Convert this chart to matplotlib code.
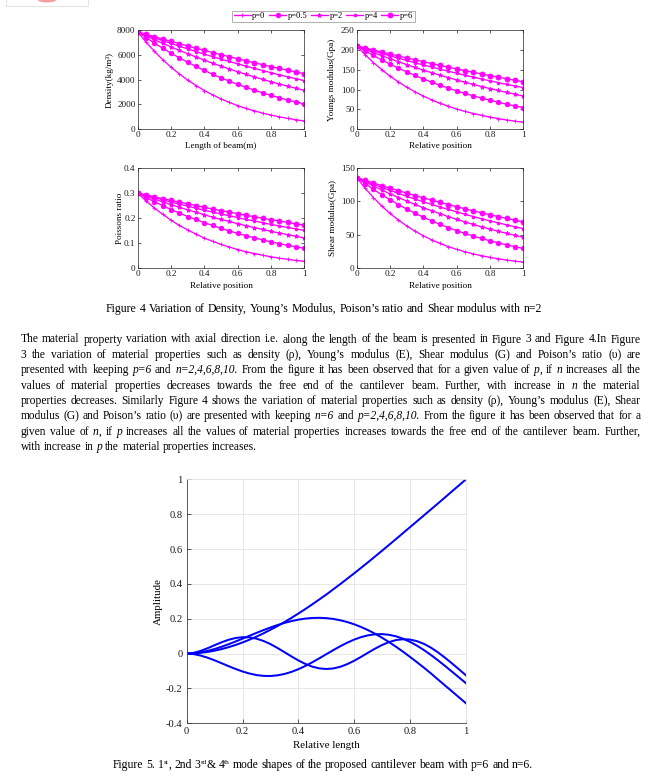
import re
import matplotlib
matplotlib.use("Agg")
import matplotlib.pyplot as plt
from matplotlib.transforms import IdentityTransform
from matplotlib.ticker import FixedLocator, FuncFormatter
from matplotlib.patches import Rectangle, Ellipse

W, H = 658, 779
plt.rcParams['font.family'] = ['Liberation Serif', 'DejaVu Serif']

# ---------------- data ----------------
x_pos = [0.0, 0.05, 0.1, 0.15, 0.2, 0.25, 0.3, 0.35, 0.4, 0.45, 0.5,
         0.55, 0.6, 0.65, 0.7, 0.75, 0.8, 0.85, 0.9, 0.95, 1.0]
series_labels = ['p=0', 'p=0.5', 'p=2', 'p=4', 'p=6']

density = [
    [7850, 7026, 6280, 5613, 5000, 4459, 3964, 3525, 3124, 2771, 2449, 2167, 1908, 1680, 1484, 1303, 1146, 1005, 879, 769, 670],
    [7850, 7387, 6947, 6531, 6131, 5754, 5401, 5063, 4741, 4435, 4145, 3878, 3619, 3376, 3148, 2936, 2732, 2543, 2363, 2198, 2041],
    [7850, 7536, 7222, 6924, 6641, 6359, 6084, 5825, 5574, 5322, 5087, 4859, 4639, 4427, 4223, 4019, 3831, 3650, 3470, 3305, 3140],
    [7850, 7607, 7371, 7144, 6916, 6696, 6476, 6264, 6052, 5856, 5652, 5464, 5275, 5087, 4906, 4734, 4561, 4396, 4231, 4074, 3925],
    [7850, 7654, 7458, 7269, 7081, 6900, 6712, 6539, 6359, 6186, 6013, 5848, 5683, 5519, 5362, 5205, 5055, 4906, 4757, 4616, 4475],
]
youngs = [
    [210, 188.0, 168.0, 150.2, 133.8, 119.3, 106.1, 94.3, 83.6, 74.1, 65.5, 58.0, 51.0, 44.9, 39.7, 34.9, 30.7, 26.9, 23.5, 20.6, 17.9],
    [210, 197.6, 185.9, 174.7, 164.0, 153.9, 144.5, 135.5, 126.8, 118.7, 110.9, 103.7, 96.8, 90.3, 84.2, 78.5, 73.1, 68.0, 63.2, 58.8, 54.6],
    [210, 201.6, 193.2, 185.2, 177.7, 170.1, 162.8, 155.8, 149.1, 142.4, 136.1, 130.0, 124.1, 118.4, 113.0, 107.5, 102.5, 97.7, 92.8, 88.4, 84.0],
    [210, 203.5, 197.2, 191.1, 185.0, 179.1, 173.3, 167.6, 161.9, 156.7, 151.2, 146.2, 141.1, 136.1, 131.3, 126.6, 122.0, 117.6, 113.2, 109.0, 105.0],
    [210, 204.8, 199.5, 194.5, 189.4, 184.6, 179.6, 174.9, 170.1, 165.5, 160.9, 156.5, 152.0, 147.6, 143.4, 139.2, 135.2, 131.3, 127.3, 123.5, 119.7],
]
poisson = [
    [0.300, 0.269, 0.240, 0.215, 0.191, 0.170, 0.152, 0.135, 0.119, 0.106, 0.094, 0.083, 0.073, 0.064, 0.057, 0.050, 0.044, 0.038, 0.034, 0.029, 0.026],
    [0.300, 0.282, 0.266, 0.250, 0.234, 0.220, 0.206, 0.194, 0.181, 0.170, 0.158, 0.148, 0.138, 0.129, 0.120, 0.112, 0.104, 0.097, 0.090, 0.084, 0.078],
    [0.300, 0.288, 0.276, 0.265, 0.254, 0.243, 0.233, 0.223, 0.213, 0.203, 0.194, 0.186, 0.177, 0.169, 0.161, 0.154, 0.146, 0.140, 0.133, 0.126, 0.120],
    [0.300, 0.291, 0.282, 0.273, 0.264, 0.256, 0.248, 0.239, 0.231, 0.224, 0.216, 0.209, 0.202, 0.194, 0.188, 0.181, 0.174, 0.168, 0.162, 0.156, 0.150],
    [0.300, 0.293, 0.285, 0.278, 0.271, 0.264, 0.257, 0.250, 0.243, 0.236, 0.230, 0.224, 0.217, 0.211, 0.205, 0.199, 0.193, 0.188, 0.182, 0.176, 0.171],
]
shear = [
    [136, 120.1, 105.8, 93.2, 81.9, 71.9, 63.0, 55.1, 48.1, 42.0, 36.6, 31.8, 27.7, 24.1, 20.8, 18.0, 15.5, 13.4, 11.5, 9.9, 8.5],
    [136, 126.9, 118.3, 110.2, 102.5, 95.3, 88.5, 82.1, 76.3, 70.7, 65.4, 60.5, 56.0, 51.7, 47.7, 44.1, 40.5, 37.4, 34.4, 31.6, 29.0],
    [136, 129.5, 123.4, 117.2, 111.5, 105.9, 100.6, 95.5, 90.6, 86.0, 81.5, 77.1, 72.9, 69.0, 65.3, 61.6, 58.2, 54.9, 51.8, 48.8, 46.0],
    [136, 131.0, 126.1, 121.3, 116.7, 112.2, 107.8, 103.6, 99.4, 95.5, 91.5, 87.9, 84.2, 80.6, 77.2, 73.8, 70.7, 67.6, 64.6, 61.7, 59.0],
    [136, 131.9, 127.8, 123.9, 120.1, 116.3, 112.6, 108.9, 105.4, 102.0, 98.6, 95.3, 92.1, 88.9, 85.8, 82.8, 80.0, 77.1, 74.3, 71.7, 69.0],
]

rel_length = [0.0, 0.025, 0.05, 0.075, 0.1, 0.125, 0.15, 0.175, 0.2, 0.225, 0.25,
              0.275, 0.3, 0.325, 0.35, 0.375, 0.4, 0.425, 0.45, 0.475, 0.5,
              0.525, 0.55, 0.575, 0.6, 0.625, 0.65, 0.675, 0.7, 0.725, 0.75,
              0.775, 0.8, 0.825, 0.85, 0.875, 0.9, 0.925, 0.95, 0.975, 1.0]
mode1 = [0, 0.0011, 0.0043, 0.0095, 0.0168, 0.0259, 0.0368, 0.0495, 0.064, 0.0798, 0.0973,
         0.1162, 0.137, 0.1581, 0.1809, 0.2048, 0.230, 0.2559, 0.283, 0.3108, 0.339,
         0.369, 0.399, 0.430, 0.461, 0.493, 0.525, 0.558, 0.591, 0.6245, 0.658,
         0.692, 0.726, 0.760, 0.794, 0.828, 0.862, 0.8965, 0.931, 0.9655, 1.0]
mode2 = [0, 0.00188, 0.0072, 0.01555, 0.0264, 0.0393, 0.0538, 0.06945, 0.0858, 0.10249, 0.1189,
         0.13483, 0.1499, 0.16377, 0.1760, 0.18645, 0.1948, 0.20081, 0.2043, 0.20521, 0.2034,
         0.19875, 0.1912, 0.18091, 0.1679, 0.15213, 0.1340, 0.11322, 0.0904, 0.06527, 0.0386,
         0.01025, -0.0196, -0.05018, -0.0817, -0.11442, -0.1491, -0.18319, -0.2170, -0.25115, -0.2853]
mode3 = [0, -0.00306, -0.0114, -0.02372, -0.0388, -0.05532, -0.0722, -0.08834, -0.1028, -0.1146, -0.1232,
         -0.12793, -0.1286, -0.1249, -0.1170, -0.10503, -0.0894, -0.07073, -0.0496, -0.02689, -0.0033,
         0.0200, 0.0424, 0.06279, 0.0805, 0.09479, 0.1050, 0.11077, 0.1117, 0.10771, 0.0988,
         0.08512, 0.0670, 0.0450, 0.0195, -0.00866, -0.0391, -0.07091, -0.1038, -0.13701, -0.1701]
mode4 = [0, 0.00429, 0.0154, 0.03087, 0.0482, 0.0649, 0.0792, 0.08939, 0.0942, 0.09303, 0.0856,
         0.07237, 0.0543, 0.03219, 0.0082, -0.01628, -0.0394, -0.05951, -0.0751, -0.08496, -0.0884,
         -0.08521, -0.0757, -0.06047, -0.0408, -0.0182, 0.0057, 0.02895, 0.0497, 0.0664, 0.0777,
         0.08251, 0.0804, 0.07109, 0.0552, 0.03333, 0.0066, -0.02387, -0.0566, -0.09054, -0.1250]

caption4 = "Figure 4 Variation of Density, Young’s Modulus, Poison’s ratio and Shear modulus with n=2"
para_lines = [
    "The material property variation with axial direction i.e. along the length of the beam is presented in Figure 3 and Figure 4.In Figure",
    "3 the variation of material properties such as density (ρ), Young’s modulus (E), Shear modulus (G) and Poison’s ratio (υ) are",
    "presented with keeping _p=6_ and _n=2,4,6,8,10._ From the figure it has been observed that for a given value of _p_, if _n_ increases all the",
    "values of material properties decreases towards the free end of the cantilever beam. Further, with increase in _n_ the material",
    "properties decreases. Similarly Figure 4 shows the variation of material properties such as density (ρ), Young’s modulus (E), Shear",
    "modulus (G) and Poison’s ratio (υ) are presented with keeping _n=6_ and _p=2,4,6,8,10._ From the figure it has been observed that for a",
    "given value of _n_, if _p_ increases all the values of material properties increases towards the free end of the cantilever beam. Further,",
    "with increase in _p_ the material properties increases.",
]
caption5 = "Figure 5. 1^st, 2nd 3^rd& 4^th mode shapes of the proposed cantilever beam with p=6 and n=6."

# ---------------- figure ----------------
fig = plt.figure(figsize=(W / 100, H / 100), dpi=100)
fig.patch.set_facecolor('white')
R = fig.canvas.get_renderer()
TR = IdentityTransform()

# faint cropped logo at the top-left corner of the page
fig.add_artist(Rectangle((5.5, H - 5.7), 82.5, 12, transform=TR, fill=False,
                         edgecolor='#e4e4e4', linewidth=0.8))
fig.add_artist(Ellipse((47, H + 1), 20, 7, transform=TR, facecolor='#f2a0a0',
                       edgecolor='none'))


def px_axes(l, t, r, b):
    return fig.add_axes([l / W, 1 - b / H, (r - l) / W, (b - t) / H])


fmt = FuncFormatter(lambda v, p: '%g' % v)
MAG = '#ff00ff'
markers = [('+', 3.0), ('o', 3.3), ('*', 3.3), ('.', 4.0), ('o', 3.6)]
SUBFS = 6.6


def prop_plot(ax, data, ylim, yticks, xlabel, ylabel, ylab_x, xlab_y):
    lines = []
    for vals, (m, ms), lab in zip(data, markers, series_labels):
        ln, = ax.plot(x_pos, vals, color=MAG, lw=0.95, marker=m, ms=ms,
                      mfc=MAG, mec=MAG, mew=0.6, label=lab)
        lines.append(ln)
    ax.set_xlim(0, 1)
    ax.set_ylim(*ylim)
    ax.xaxis.set_major_locator(FixedLocator([0, 0.2, 0.4, 0.6, 0.8, 1.0]))
    ax.yaxis.set_major_locator(FixedLocator(yticks))
    ax.xaxis.set_major_formatter(fmt)
    ax.yaxis.set_major_formatter(fmt)
    ax.tick_params(direction='in', length=2, width=0.5, labelsize=SUBFS,
                   top=True, right=True, pad=1.5, colors='#1a1a1a')
    for s in ax.spines.values():
        s.set_linewidth(0.5)
        s.set_color('#262626')
    ax.set_xlabel(xlabel, fontsize=SUBFS)
    ax.set_ylabel(ylabel, fontsize=SUBFS)
    ax.xaxis.set_label_coords(0.5, xlab_y)
    ax.yaxis.set_label_coords(ylab_x, 0.5)
    ax.xaxis.label.set_va('center')
    ax.yaxis.label.set_va('center')
    return lines


ax1 = px_axes(137.7, 30.0, 304.3, 129.3)
handles = prop_plot(ax1, density, (0, 8000), [0, 2000, 4000, 6000, 8000],
                    'Length of beam(m)', 'Density(kg/m³)', -0.166, -0.168)
ax2 = px_axes(356.7, 30.0, 523.3, 129.3)
prop_plot(ax2, youngs, (0, 250), [0, 50, 100, 150, 200, 250],
          'Relative position', 'Youngs modulus(Gpa)', -0.150, -0.168)
ax3 = px_axes(137.7, 168.3, 304.3, 267.7)
prop_plot(ax3, poisson, (0, 0.4), [0, 0.1, 0.2, 0.3, 0.4],
          'Relative position', 'Poissons ratio', -0.106, -0.184)
ax4 = px_axes(356.7, 168.3, 523.3, 267.7)
prop_plot(ax4, shear, (0, 150), [0, 50, 100, 150],
          'Relative position', 'Shear modulus(Gpa)', -0.142, -0.184)

leg = fig.legend(handles, series_labels, loc='upper center',
                 bbox_to_anchor=(323.5 / W, 1 - 10.5 / H), ncol=5, fontsize=6.1,
                 frameon=True, fancybox=False, edgecolor='#8c8c8c',
                 handlelength=2.0, handletextpad=0.2, columnspacing=0.4,
                 borderpad=0.2, borderaxespad=0)
leg.get_frame().set_linewidth(0.6)

# ---------------- mode shape plot ----------------
ax5 = px_axes(186.7, 479.3, 466.0, 723.3)
for m in (mode1, mode2, mode3, mode4):
    ax5.plot(rel_length, m, color='#0000ff', lw=1.45)
ax5.set_xlim(0, 1)
ax5.set_ylim(-0.4, 1)
ax5.xaxis.set_major_locator(FixedLocator([0, 0.2, 0.4, 0.6, 0.8, 1.0]))
ax5.yaxis.set_major_locator(FixedLocator([-0.4, -0.2, 0, 0.2, 0.4, 0.6, 0.8, 1.0]))
ax5.xaxis.set_major_formatter(fmt)
ax5.yaxis.set_major_formatter(fmt)
ax5.grid(True, color='#e3e3e3', lw=0.6)
ax5.set_axisbelow(True)
ax5.tick_params(direction='in', length=3, width=0.5, labelsize=7.6, pad=3,
                colors='#1a1a1a')
for name, s in ax5.spines.items():
    s.set_linewidth(0.6)
    s.set_color('#404040' if name in ('left', 'bottom') else '#e3e3e3')
ax5.set_xlabel('Relative length', fontsize=7.8)
ax5.set_ylabel('Amplitude', fontsize=7.8)
ax5.xaxis.set_label_coords(0.5, -0.093)
ax5.yaxis.set_label_coords(-0.103, 0.5)
ax5.xaxis.label.set_va('center')
ax5.yaxis.label.set_va('center')

# ---------------- page text ----------------
_cache = {}
REF_FS = 100.0


def tw_ref(s, italic=False):
    key = (s, italic)
    if key not in _cache:
        t = fig.text(0, 0, s, fontsize=REF_FS, style='italic' if italic else 'normal',
                     transform=TR)
        _cache[key] = t.get_window_extent(R).width
        t.remove()
    return _cache[key]


def adv(s, fs, italic=False):
    # advance width of s, measured large and scaled (avoids pixel rounding)
    return (tw_ref('|' + s + '|', italic) - tw_ref('||', italic)) * fs / REF_FS


def space_w(fs):
    return adv(' ', fs)


def parse_word(word):
    segs = []
    for i, part in enumerate(word.split('_')):
        if not part:
            continue
        for sub in re.split(r'(\^\w+)', part):
            if not sub:
                continue
            if sub.startswith('^'):
                segs.append((sub[1:], i % 2 == 1, True))
            else:
                segs.append((sub, i % 2 == 1, False))
    return segs


def seg_fs(fs, sup):
    return fs * 0.62 if sup else fs


def word_width(segs, fs):
    return sum(adv(s, seg_fs(fs, sup), it) for s, it, sup in segs)


def draw_word(x, yb, segs, fs):
    for s, it, sup in segs:
        f = seg_fs(fs, sup)
        dy = fs * 100 / 72 * 0.38 if sup else 0
        fig.text(x, H - yb + dy, s, fontsize=f, style='italic' if it else 'normal',
                 transform=TR, ha='left', va='baseline', color='#000000')
        x += adv(s, f, it)


def natural_width(text, fs):
    words = [parse_word(w) for w in text.split()]
    return sum(word_width(w, fs) for w in words) + space_w(fs) * (len(words) - 1)


def draw_line(text, x0, yb, fs, x1=None):
    words = [parse_word(w) for w in text.split()]
    widths = [word_width(w, fs) for w in words]
    if x1 is None or len(words) < 2:
        gap = space_w(fs)
    else:
        gap = (x1 - x0 - sum(widths)) / (len(words) - 1)
    x = x0
    for w, wd in zip(words, widths):
        draw_word(x, yb, w, fs)
        x += wd + gap


# caption of figure 4
fs_c4 = 10 * 436.7 / natural_width(caption4, 10)
w_c4 = natural_width(caption4, fs_c4)
draw_line(caption4, 324.3 - w_c4 / 2, 312.0, fs_c4)

# justified paragraph: font sized so the fullest line just fits the column
X0, X1 = 20.7, 640.7
widest = max(natural_width(l, 10) for l in para_lines[:-1])
fs_p = 10 * 612.0 / widest
for i, line in enumerate(para_lines):
    yb = 342.5 + 15.35 * i
    if i < len(para_lines) - 1:
        draw_line(line, X0, yb, fs_p, X1)
    else:
        draw_line(line, X0, yb, fs_p)

# caption of figure 5
fs_c5 = 10 * 420.0 / natural_width(caption5, 10)
draw_line(caption5, 113.0, 768.0, fs_c5)

fig.savefig('out.png', dpi=100, facecolor='white')
